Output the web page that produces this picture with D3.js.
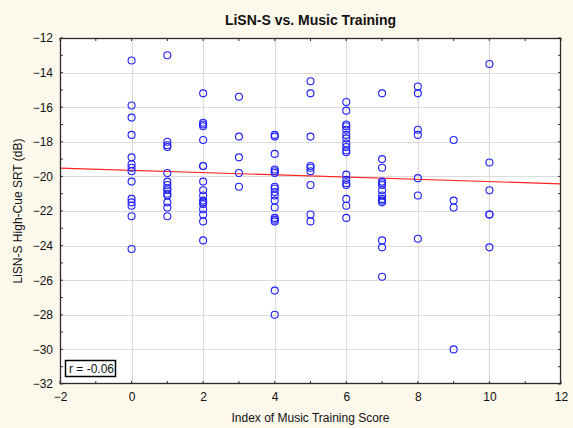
<!DOCTYPE html>
<html>
<head>
<meta charset="utf-8">
<script src="https://cdn.jsdelivr.net/npm/d3@7"></script>
<style>
  html, body { margin: 0; padding: 0; background: #fdf8ec; }
  svg { display: block; }
  text { font-family: "Liberation Sans", Arial, sans-serif; fill: #111; }
</style>
</head>
<body>
<svg id="chart" width="573" height="428"></svg>
<script>
// Index of music training score (x) for each group of listeners
const scoreLevels = [0, 1, 2, 3, 4, 5, 6, 7, 8, 9, 10];

// LiSN-S high-cue SRT (dB) for the listeners at each score
const srtScore0 = [-13.3, -15.9, -16.6, -17.6, -18.9, -19.3, -19.5, -19.7, -20.3, -21.3, -21.5, -21.7, -22.3, -24.2];
const srtScore1 = [-13.0, -18.0, -18.2, -18.3, -19.8, -20.3, -20.5, -20.7, -20.8, -21.0, -21.1, -21.5, -21.8, -22.3];
const srtScore2 = [-15.2, -16.9, -17.0, -17.1, -17.9, -19.4, -19.4, -20.3, -20.8, -21.1, -21.4, -21.5, -21.6, -21.9, -22.2, -22.6, -23.7];
const srtScore3 = [-15.4, -17.7, -18.9, -19.8, -20.6];
const srtScore4 = [-17.6, -17.7, -18.7, -19.6, -19.7, -19.8, -20.6, -20.7, -20.9, -21.1, -21.4, -21.8, -22.4, -22.5, -22.6, -26.6, -28.0];
const srtScore5 = [-14.5, -15.2, -17.7, -19.4, -19.5, -19.7, -20.5, -22.2, -22.6];
const srtScore6 = [-15.7, -16.2, -17.0, -17.1, -17.3, -17.6, -17.8, -18.1, -18.3, -18.5, -18.6, -19.9, -20.2, -20.4, -20.5, -21.3, -21.7, -22.4];
const srtScore7 = [-15.2, -19.0, -19.5, -20.3, -20.4, -20.5, -20.8, -21.1, -21.3, -21.4, -21.5, -23.7, -24.1, -25.8];
const srtScore8 = [-14.8, -15.2, -17.3, -17.6, -20.1, -21.1, -23.6];
const srtScore9 = [-17.9, -21.4, -21.8, -30.0];
const srtScore10 = [-13.5, -19.2, -20.8, -22.2, -22.2, -24.1];

const srtGroups = [srtScore0, srtScore1, srtScore2, srtScore3, srtScore4, srtScore5,
                   srtScore6, srtScore7, srtScore8, srtScore9, srtScore10];

const xTicks = [-2, 0, 2, 4, 6, 8, 10, 12];
const yTicks = [-32, -30, -28, -26, -24, -22, -20, -18, -16, -14, -12];
const rLabel = "r = -0.06";

const points = [];
scoreLevels.forEach((s, i) => srtGroups[i].forEach(v => points.push({ x: s, y: v })));

const svg = d3.select("#chart");
const plot = { left: 60, right: 561, top: 38, bottom: 384 };

const x = d3.scaleLinear().domain([-2, 12]).range([plot.left, plot.right]);
const y = d3.scaleLinear().domain([-32, -12]).range([plot.bottom, plot.top]);

// plotting area
svg.append("rect")
  .attr("x", plot.left).attr("y", plot.top)
  .attr("width", plot.right - plot.left).attr("height", plot.bottom - plot.top)
  .attr("fill", "#ffffff");

// grid lines at the major ticks
const grid = svg.append("g").attr("stroke", "#dcdcdc").attr("stroke-width", 1.2);
grid.selectAll("line.v").data(xTicks.slice(1, -1)).join("line")
  .attr("x1", d => Math.round(x(d)) + 0.5).attr("x2", d => Math.round(x(d)) + 0.5)
  .attr("y1", plot.top).attr("y2", plot.bottom);
grid.selectAll("line.h").data(yTicks.slice(1, -1)).join("line")
  .attr("y1", d => Math.round(y(d)) + 0.5).attr("y2", d => Math.round(y(d)) + 0.5)
  .attr("x1", plot.left).attr("x2", plot.right);

// least-squares fit line
const mx = d3.mean(points, d => d.x), my = d3.mean(points, d => d.y);
const sxy = d3.sum(points, d => (d.x - mx) * (d.y - my));
const sxx = d3.sum(points, d => (d.x - mx) ** 2);
const slope = sxy / sxx, intercept = my - slope * mx;
svg.append("line")
  .attr("x1", x(-2)).attr("y1", y(intercept + slope * -2))
  .attr("x2", x(12)).attr("y2", y(intercept + slope * 12))
  .attr("stroke", "#ff2020").attr("stroke-width", 1.2);

// scatter points
svg.append("g").selectAll("circle").data(points).join("circle")
  .attr("cx", d => x(d.x)).attr("cy", d => y(d.y)).attr("r", 3.5)
  .attr("fill", "none").attr("stroke", "#2020ff").attr("stroke-width", 1.1);

// axes with inward ticks on all four sides
const minorX = d3.range(-1, 12, 2), minorY = d3.range(-31, -12, 2);
const allX = xTicks.concat(minorX), allY = yTicks.concat(minorY);

const bottomAxis = d3.axisBottom(x).tickValues(xTicks).tickSize(0).tickPadding(8);
const gx = svg.append("g").attr("transform", `translate(0,${plot.bottom})`).call(bottomAxis);
gx.select(".domain").remove();
gx.selectAll("text").attr("font-size", 12).attr("font-family", "Liberation Sans, Arial, sans-serif").attr("fill", "#111");

const leftAxis = d3.axisLeft(y).tickValues(yTicks).tickSize(0).tickPadding(7);
const gy = svg.append("g").attr("transform", `translate(${plot.left},0)`).call(leftAxis);
gy.select(".domain").remove();
gy.selectAll("text").attr("font-size", 12).attr("font-family", "Liberation Sans, Arial, sans-serif").attr("fill", "#111");

const ticks = svg.append("g").attr("stroke", "#333").attr("stroke-width", 1);
ticks.selectAll("line.tb").data(allX).join("line")
  .attr("x1", d => x(d)).attr("x2", d => x(d)).attr("y1", plot.bottom).attr("y2", plot.bottom - 3);
ticks.selectAll("line.tt").data(allX).join("line")
  .attr("x1", d => x(d)).attr("x2", d => x(d)).attr("y1", plot.top).attr("y2", plot.top + 3);
ticks.selectAll("line.tl").data(allY).join("line")
  .attr("y1", d => y(d)).attr("y2", d => y(d)).attr("x1", plot.left).attr("x2", plot.left + 3);
ticks.selectAll("line.tr").data(allY).join("line")
  .attr("y1", d => y(d)).attr("y2", d => y(d)).attr("x1", plot.right).attr("x2", plot.right - 3);

// frame
svg.append("rect")
  .attr("x", plot.left + 0.5).attr("y", plot.top + 0.5)
  .attr("width", plot.right - plot.left - 1).attr("height", plot.bottom - plot.top - 1)
  .attr("fill", "none").attr("stroke", "#2a2a2a").attr("stroke-width", 1.3);

// correlation box
const rg = svg.append("g").attr("transform", `translate(${plot.left + 5},${plot.bottom - 24})`);
rg.append("rect").attr("x", 0.5).attr("y", 0.5).attr("width", 50).attr("height", 16)
  .attr("fill", "#fff").attr("stroke", "#000").attr("stroke-width", 1.5);
rg.append("text").attr("x", 4).attr("y", 12.5).attr("font-size", 12).text(rLabel);

// titles
svg.append("text").attr("x", (plot.left + plot.right) / 2).attr("y", 25)
  .attr("text-anchor", "middle").attr("font-size", 14).attr("font-weight", "bold")
  .text("LiSN-S vs. Music Training");
svg.append("text").attr("x", (plot.left + plot.right) / 2).attr("y", 422)
  .attr("text-anchor", "middle").attr("font-size", 12)
  .text("Index of Music Training Score");
svg.append("text")
  .attr("transform", `translate(22,${(plot.top + plot.bottom) / 2}) rotate(-90)`)
  .attr("text-anchor", "middle").attr("font-size", 12)
  .text("LiSN-S High-Cue SRT (dB)");
</script>
</body>
</html>
